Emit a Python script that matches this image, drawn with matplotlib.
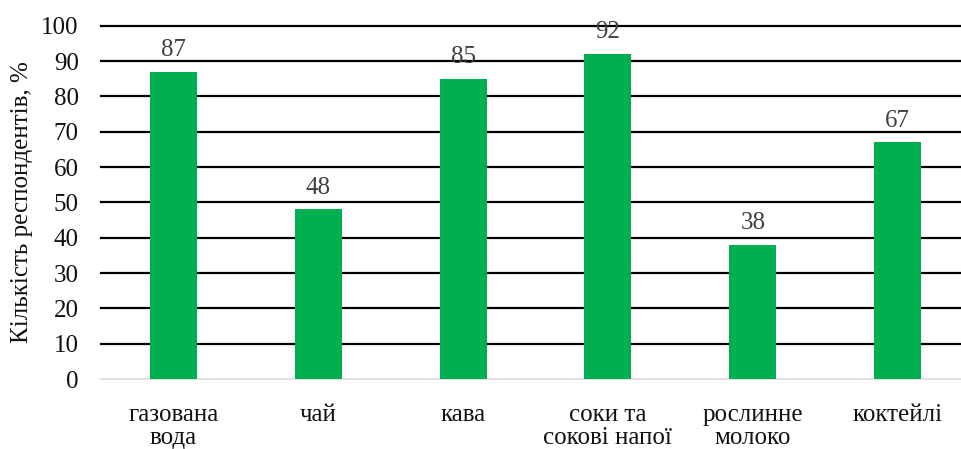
import matplotlib
matplotlib.use("Agg")
import matplotlib.pyplot as plt

categories = ["газована\nвода", "чай", "кава", "соки та\nсокові напої", "рослинне\nмолоко", "коктейлі"]
values = [87, 48, 85, 92, 38, 67]
yticks = [0, 10, 20, 30, 40, 50, 60, 70, 80, 90, 100]

plt.rcParams['font.family'] = ['Liberation Serif', 'DejaVu Serif']

W, H = 961, 449
fig = plt.figure(figsize=(W/100, H/100), dpi=100)
left, right, top, bottom = 101, 970, 25.7, 379
ax = fig.add_axes([left/W, 1-bottom/H, (right-left)/W, (bottom-top)/H])

x = list(range(len(categories)))
bars = ax.bar(x, values, width=0.325, color='#00B050', zorder=3)
for xi, v in zip(x, values):
    ax.text(xi, v + 3.0, str(v), ha='center', va='bottom', fontsize=18, color='#404040')

ax.set_xlim(-0.5, len(categories) - 0.5)
ax.set_ylim(0, 100)
ax.set_yticks(yticks)
ax.set_yticklabels([str(t) for t in yticks], fontsize=18, color='#111111')
ax.set_xticks(x)
ax.set_xticklabels(categories, fontsize=18, color='#111111', linespacing=1.08)
ax.tick_params(axis='both', length=0)
ax.tick_params(axis='x', pad=18)
ax.tick_params(axis='y', pad=16)
for t in yticks[1:]:
    ax.axhline(t, color='black', linewidth=1.6, zorder=1, clip_on=False)
ax.axhline(0, color='#D9D9D9', linewidth=1.2, zorder=1, clip_on=False)
for s in ax.spines.values():
    s.set_visible(False)
ax.set_ylabel("Кількість респондентів, %", fontsize=18, color='#111111', labelpad=6)

fig.savefig("out.png", dpi=100)
